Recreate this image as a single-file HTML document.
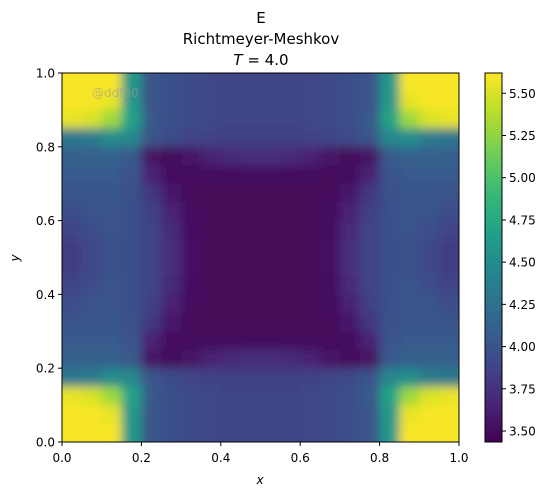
<!DOCTYPE html>
<html><head><meta charset="utf-8"><style>
body{margin:0;background:#fff;}
svg text{font-family:"DejaVu Sans","Liberation Sans",sans-serif;}
</style></head><body>
<svg id="chart" width="553" height="496" viewBox="0 0 553 496" xmlns="http://www.w3.org/2000/svg">
<defs>
<clipPath id="plotclip"><rect x="62" y="73" width="397" height="369"/></clipPath>
<filter id="blur" x="-10%" y="-10%" width="120%" height="120%"><feGaussianBlur stdDeviation="5"/></filter>
<linearGradient id="cbgrad" x1="0" y1="1" x2="0" y2="0"></linearGradient>
</defs>
<text x="261" y="23" font-size="15" text-anchor="middle">E</text>
<text x="261" y="44" font-size="15" text-anchor="middle">Richtmeyer-Meshkov</text>
<text x="261" y="65" font-size="15" text-anchor="middle"><tspan font-style="italic">T</tspan> = 4.0</text>
<g id="cells" clip-path="url(#plotclip)"><g id="cellsInner" filter="url(#blur)"></g></g>
<text x="92" y="97" font-size="12" fill="#999" fill-opacity="0.6" font-family="Liberation Mono, monospace">@ddf00</text>
<rect x="62" y="73" width="397" height="369" fill="none" stroke="#000" stroke-width="1"/>
<g id="axes"></g>
<text x="260" y="484" font-size="12" font-style="italic" text-anchor="middle">x</text>
<text transform="translate(19,258) rotate(-90)" font-size="12" font-style="italic" text-anchor="middle">y</text>
<rect x="485" y="73" width="17" height="369" fill="url(#cbgrad)" stroke="#000" stroke-width="1"/>
<g id="cbaxis"></g>
</svg>
<script>
const vmin = 3.435, vmax = 5.62;
const xTicks = [0.0,0.2,0.4,0.6,0.8,1.0];
const yTicks = [0.0,0.2,0.4,0.6,0.8,1.0];
const cbTicks = [3.50,3.75,4.00,4.25,4.50,4.75,5.00,5.25,5.50];
const r0=[5.6,5.6,5.6,4.6,4.0,3.97,3.93,3.9,3.88,3.88,3.88,3.88,3.9,3.93,3.97,4.0,4.6,5.6,5.6,5.6];
const r1=[5.6,5.6,5.55,4.6,4.0,3.97,3.93,3.9,3.88,3.88,3.88,3.88,3.9,3.93,3.97,4.0,4.6,5.55,5.6,5.6];
const r2=[5.55,5.5,5.3,4.7,4.05,3.97,3.93,3.9,3.88,3.88,3.88,3.88,3.9,3.93,3.97,4.05,4.7,5.3,5.5,5.55];
const r3=[4.3,4.35,4.5,4.45,4.0,3.93,3.88,3.86,3.85,3.85,3.85,3.85,3.86,3.88,3.93,4.0,4.45,4.5,4.35,4.3];
const r4=[4.1,4.1,4.1,4.05,3.55,3.48,3.55,3.65,3.7,3.72,3.72,3.7,3.65,3.55,3.48,3.55,4.05,4.1,4.1,4.1];
const r5=[4.05,4.05,4.05,4.0,3.65,3.5,3.48,3.5,3.5,3.5,3.5,3.5,3.5,3.48,3.5,3.65,4.0,4.05,4.05,4.05];
const r6=[4.0,4.02,4.02,3.98,3.8,3.58,3.48,3.47,3.47,3.47,3.47,3.47,3.47,3.48,3.58,3.8,3.98,4.02,4.02,4.0];
const r7=[3.95,4.0,4.0,3.97,3.85,3.65,3.5,3.47,3.47,3.47,3.47,3.47,3.47,3.5,3.65,3.85,3.97,4.0,4.0,3.95];
const r8=[3.88,3.95,4.0,3.97,3.88,3.7,3.52,3.47,3.47,3.47,3.47,3.47,3.47,3.52,3.7,3.88,3.97,4.0,3.95,3.88];
const r9=[3.82,3.92,3.98,3.97,3.88,3.72,3.53,3.47,3.47,3.47,3.47,3.47,3.47,3.53,3.72,3.88,3.97,3.98,3.92,3.82];
const values=[r0,r1,r2,r3,r4,r5,r6,r7,r8,r9,r9,r8,r7,r6,r5,r4,r3,r2,r1,r0];
const viridis=[[68,1,84],[72,40,120],[62,74,137],[49,104,142],[38,130,142],[31,158,137],[53,183,121],[109,205,89],[180,222,44],[253,231,37]];
function cmap(v){let t=Math.max(0,Math.min(1,(v-vmin)/(vmax-vmin)))*(viridis.length-1);let i=Math.min(Math.floor(t),viridis.length-2),f=t-i;const a=viridis[i],b=viridis[i+1];return `rgb(${a.map((c,k)=>Math.round(c+(b[k]-c)*f)).join(',')})`;}
const X0=62,X1=459,Y0=73,Y1=442;
const sx=v=>X0+v*(X1-X0), sy=v=>Y1-v*(Y1-Y0);
const NS="http://www.w3.org/2000/svg";
const inner=document.getElementById('cellsInner');
const n=values.length, m=values[0].length;
for(let r=0;r<n;r++)for(let c=0;c<m;c++){
  let x=sx(c/m),x2=sx((c+1)/m),y=sy(1-r/n),y2=sy(1-(r+1)/n);
  if(c===0)x-=25; if(c===m-1)x2+=25; if(r===0)y-=25; if(r===n-1)y2+=25;
  const el=document.createElementNS(NS,'rect');
  
  
  el.setAttribute('x',x);el.setAttribute('y',y);el.setAttribute('width',x2-x+0.5);el.setAttribute('height',y2-y+0.5);
  el.setAttribute('fill',cmap(values[r][c]));inner.appendChild(el);
}
const axes=document.getElementById('axes');
function add(parent,tag,attrs,text,name){const el=document.createElementNS(NS,tag);for(const k in attrs)el.setAttribute(k,attrs[k]);if(text!==undefined)el.textContent=text;


parent.appendChild(el);return el;}
xTicks.forEach(t=>{add(axes,'line',{x1:sx(t),x2:sx(t),y1:442,y2:446,stroke:'#000'},undefined,'x-tick');add(axes,'text',{x:sx(t),y:462,'font-size':12,'text-anchor':'middle'},t.toFixed(1),'x-tick-label');});
yTicks.forEach(t=>{add(axes,'line',{x1:58,x2:62,y1:sy(t),y2:sy(t),stroke:'#000'},undefined,'y-tick');add(axes,'text',{x:55,y:sy(t)+4.5,'font-size':12,'text-anchor':'end'},t.toFixed(1),'y-tick-label');});
const grad=document.getElementById('cbgrad');
viridis.forEach((c,i)=>{const s=document.createElementNS(NS,'stop');s.setAttribute('offset',i/(viridis.length-1));s.setAttribute('stop-color',`rgb(${c.join(',')})`);grad.appendChild(s);});
const cb=document.getElementById('cbaxis');
const cy=v=>Y1-(v-vmin)/(vmax-vmin)*(Y1-Y0);
cbTicks.forEach(t=>{add(cb,'line',{x1:502,x2:506,y1:cy(t),y2:cy(t),stroke:'#000'},undefined,'colorbar-tick');add(cb,'text',{x:509,y:cy(t)+4.5,'font-size':12},t.toFixed(2),'colorbar-tick-label');});
</script>
</body></html>
